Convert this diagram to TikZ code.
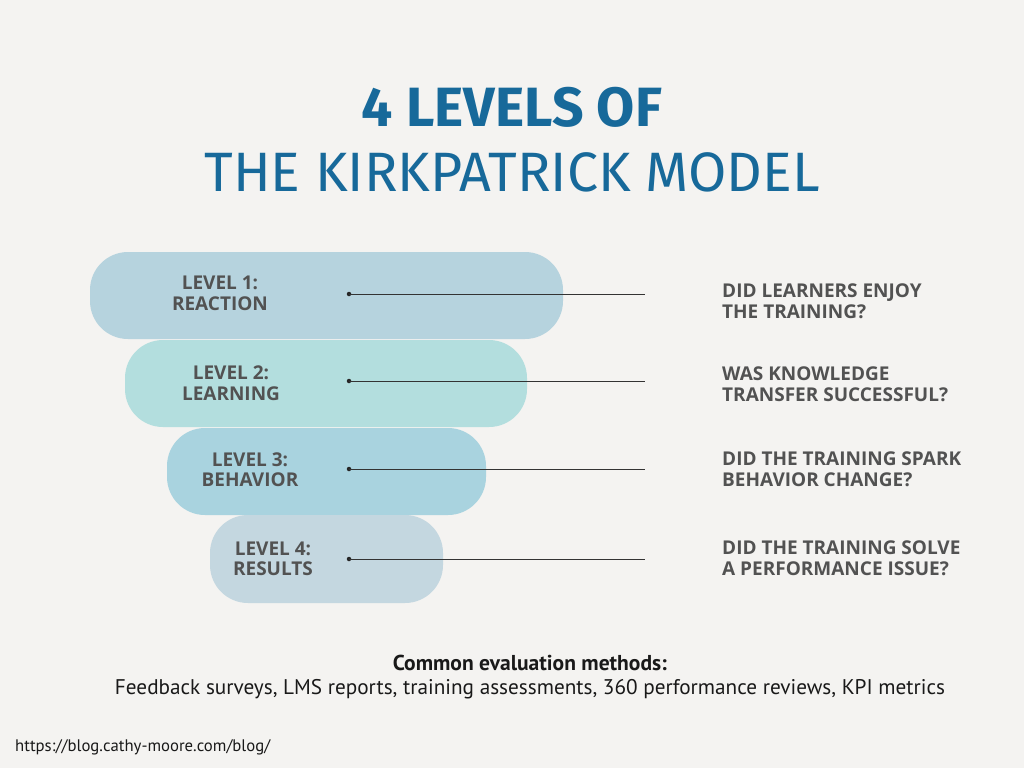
\documentclass[tikz,border=0pt]{standalone}
\usepackage{fontspec}
\setmainfont{Open Sans}
\newfontfamily\titlefont{Fira Sans}
\newfontfamily\condfont{PT Sans}
\definecolor{bg}{HTML}{F4F3F1}
\definecolor{titleblue}{HTML}{17699A}
\definecolor{txtgray}{HTML}{525252}
\definecolor{cA}{HTML}{B6D3DE}
\definecolor{cB}{HTML}{B3DEDE}
\definecolor{cC}{HTML}{A9D3DF}
\definecolor{cD}{HTML}{C4D7E0}
\tikzset{
  pill/.style={draw=none, rounded corners=38pt, minimum height=87pt, inner sep=0pt},
  lvl/.style={text=txtgray, align=center, inner sep=0pt, font=\fontsize{19}{20.5}\selectfont\bfseries},
  quest/.style={text=txtgray, align=left, anchor=west, inner sep=0pt, font=\fontsize{19}{21}\selectfont\bfseries},
  dotnode/.style={circle, fill=black!85, minimum size=4.5pt, inner sep=0pt},
  conn/.style={draw=black!80, line width=1pt},
}
\begin{document}
\begin{tikzpicture}[x=1pt,y=-1pt]
\fill[bg] (0,0) rectangle (1024,768);
\useasboundingbox (0,0) rectangle (1024,768);
% title
\node[text=titleblue, inner sep=0pt] (t1) at (512,107) {\resizebox{300pt}{!}{\titlefont\bfseries 4 LEVELS OF}};
\node[text=titleblue, inner sep=0pt] (t2) at (512,172) {\resizebox{615pt}{!}{\titlefont THE KIRKPATRICK MODEL}};
% pills
\node[pill, fill=cA, minimum width=473pt] (p1) at (326.5,295.5) {};
\node[pill, fill=cB, minimum width=402pt] (p2) at (326,383.5) {};
\node[pill, fill=cC, minimum width=319pt] (p3) at (326.5,471.5) {};
\node[pill, fill=cD, minimum width=233pt, minimum height=88pt] (p4) at (326.5,559) {};
% labels
\node[lvl] (l1) at (220,293.5) {LEVEL 1:\\REACTION};
\node[lvl] (l2) at (231,383) {LEVEL 2:\\LEARNING};
\node[lvl] (l3) at (250,469.5) {LEVEL 3:\\BEHAVIOR};
\node[lvl] (l4) at (273,559) {LEVEL 4:\\RESULTS};
% connectors
\node[dotnode] (d1) at (349,294) {};
\node[dotnode] (d2) at (349,381) {};
\node[dotnode] (d3) at (349,469) {};
\node[dotnode] (d4) at (349,559) {};
\coordinate (e1) at (645,294);
\coordinate (e2) at (645,381);
\coordinate (e3) at (645,469);
\coordinate (e4) at (645,559);
\draw[conn] (d1.center) -- (e1);
\draw[conn] (d2.center) -- (e2);
\draw[conn] (d3.center) -- (e3);
\draw[conn] (d4.center) -- (e4);
% questions
\node[quest] (q1) at (722,301.5) {DID LEARNERS ENJOY\\THE TRAINING?};
\node[quest] (q2) at (722,384.5) {WAS KNOWLEDGE\\TRANSFER SUCCESSFUL?};
\node[quest] (q3) at (722,469.5) {DID THE TRAINING SPARK\\BEHAVIOR CHANGE?};
\node[quest] (q4) at (722,558.5) {DID THE TRAINING SOLVE\\A PERFORMANCE ISSUE?};
% bottom
\node[inner sep=0pt, text=black!90] (m1) at (530,663) {\resizebox{274pt}{!}{\condfont\bfseries Common evaluation methods:}};
\node[inner sep=0pt, text=black!90] (m2) at (530,689) {\resizebox{830pt}{!}{\condfont Feedback surveys, LMS reports, training assessments, 360 performance reviews, KPI metrics}};
\node[inner sep=0pt, anchor=west, text=black!90] (url) at (15,747) {\resizebox{255pt}{!}{\condfont https://blog.cathy-moore.com/blog/}};
\end{tikzpicture}
\end{document}
